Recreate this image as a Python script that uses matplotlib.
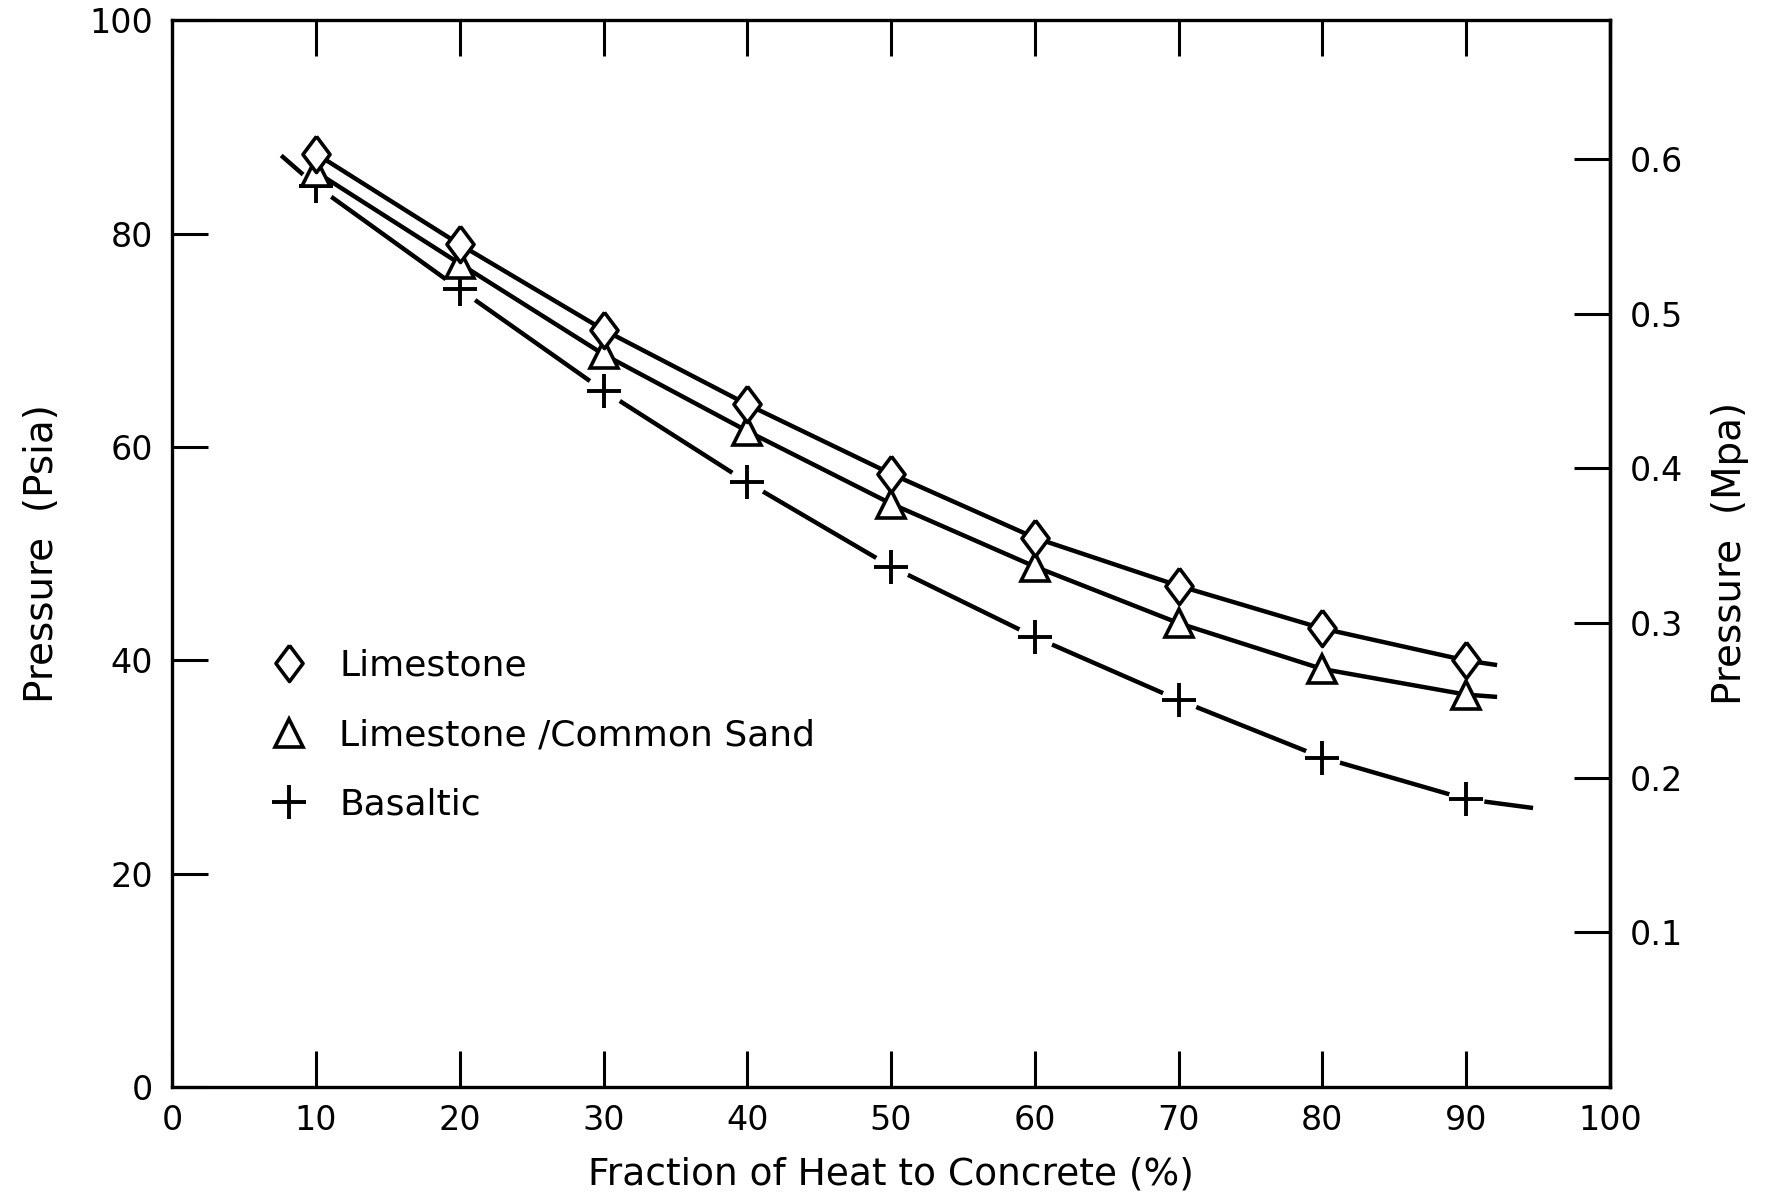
import matplotlib
matplotlib.use("Agg")
import matplotlib.pyplot as plt
import numpy as np

# fraction of heat to concrete (%) at the plotted points
frac = [10, 20, 30, 40, 50, 60, 70, 80, 90]

# pressure (psia)
limestone = [87.5, 79.0, 71.0, 64.0, 57.5, 51.5, 47.0, 43.0, 40.0]
lime_sand = [85.8, 77.2, 68.7, 61.5, 54.7, 48.8, 43.5, 39.2, 36.8]
basaltic = [84.5, 74.8, 65.3, 56.7, 48.8, 42.2, 36.3, 30.9, 27.0]

# where the drawn curves start / stop beyond the points
lime_ends = ([92], [39.6])
sand_ends = ([92], [36.6])
basalt_start = ([7.7], [87.2])
basalt_end = ([94.5], [26.2])

labels = ["Limestone", "Limestone /Common Sand", "Basaltic"]

PSI_TO_MPA = 0.0068948
mpa_ticks = [0.1, 0.2, 0.3, 0.4, 0.5, 0.6]

plt.rcParams["font.family"] = "DejaVu Sans"

fig = plt.figure(figsize=(17.75, 12), dpi=100)
ax = fig.add_axes([0.097, 0.094, 0.81, 0.889])

lw = 3.2
diamond = [(0, 1), (0.75, 0), (0, -1), (-0.75, 0), (0, 1)]

# curves
ax.plot(frac + lime_ends[0], limestone + lime_ends[1], color="black", lw=lw, zorder=4)
ax.plot(frac + sand_ends[0], lime_sand + sand_ends[1], color="black", lw=lw, zorder=4)
ax.plot(basalt_start[0] + frac + basalt_end[0], basalt_start[1] + basaltic + basalt_end[1],
        color="black", lw=lw, zorder=2)
# the basaltic curve is broken around its markers
ax.plot(frac, basaltic, ls="none", marker="o", ms=26, mfc="white", mec="none", zorder=2.1)

h_plus, = ax.plot(frac, basaltic, ls="none", marker="+", ms=24, mew=2.8,
                  color="black", zorder=2.2)
h_tri, = ax.plot(frac, lime_sand, ls="none", marker="^", ms=20, mew=2.6,
                 mfc="white", mec="black", zorder=5)
h_dia, = ax.plot(frac, limestone, ls="none", marker=diamond, ms=26, mew=2.6,
                 mfc="white", mec="black", zorder=6)

ax.set_xlim(0, 100)
ax.set_ylim(0, 100)
ax.set_xticks(range(0, 101, 10))
ax.set_yticks(range(0, 101, 20))
ax.tick_params(axis="both", direction="in", length=26, width=2.2, labelsize=24,
               top=True, right=False)
ax.tick_params(axis="x", pad=12)
ax.tick_params(axis="y", pad=14)
for s in ax.spines.values():
    s.set_linewidth(2.4)

ax.set_xlabel("Fraction of Heat to Concrete (%)", fontsize=27, labelpad=14)
ax.set_ylabel("Pressure  (Psia)", fontsize=28, labelpad=20)

ax2 = ax.twinx()
ax2.set_ylim(0, 100 * PSI_TO_MPA)
ax2.set_yticks(mpa_ticks)
ax2.set_yticklabels([f"{v:.1f}" for v in mpa_ticks])
ax2.tick_params(axis="y", direction="in", length=26, width=2.2, labelsize=24, pad=14)
ax2.set_ylabel("Pressure  (Mpa)", fontsize=28, labelpad=20)
ax2.spines["right"].set_linewidth(2.4)

leg = ax.legend([h_dia, h_tri, h_plus], labels, loc="center left",
                bbox_to_anchor=(0.066, 0.33), frameon=False, fontsize=26,
                handlelength=1.2, handletextpad=0.8, labelspacing=0.98,
                borderpad=0, borderaxespad=0)

fig.savefig("out.png", dpi=100)
